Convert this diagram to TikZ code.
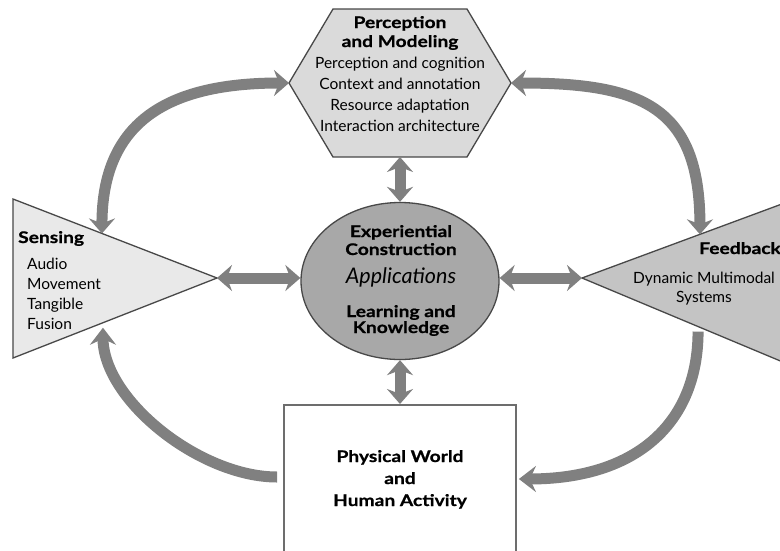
\documentclass[tikz,border=0pt]{standalone}
\usepackage{fontspec}
\setmainfont{Lato}
\newfontfamily\headfont[FakeStretch=1.2,FakeBold=0.8]{Lato}
\usetikzlibrary{arrows.meta,calc,shapes.geometric}

\definecolor{linkgray}{RGB}{128,128,128}
\definecolor{edgegray}{RGB}{72,72,72}
\definecolor{hexfill}{RGB}{218,218,218}
\definecolor{sensefill}{RGB}{233,233,233}
\definecolor{backfill}{RGB}{196,196,196}
\definecolor{corefill}{RGB}{168,168,168}

\tikzset{
  block/.style={draw=edgegray, line width=1.3pt},
  link/.style={draw=linkgray, line width=11pt, -{Stealth[length=17pt,width=26pt,inset=6pt]}},
  duplex/.style={link, {Stealth[length=15pt,width=26pt,inset=5pt]}-{Stealth[length=15pt,width=26pt,inset=5pt]}},
  txt/.style={inner sep=0pt, font=\fontsize{15.5}{18}\selectfont},
  head/.style={txt, font=\headfont\fontsize{16}{18}\selectfont\bfseries},
}

\begin{document}
\begin{tikzpicture}[x=1pt, y=-1pt]
\clip (0,0) rectangle (780,550);
\fill[white] (0,0) rectangle (780,550);

% corners of the outer shapes
\coordinate (hexL) at (289,83);  \coordinate (hexTL) at (333,9);
\coordinate (hexTR) at (467,9);  \coordinate (hexR) at (511,83);
\coordinate (hexBR) at (467,157); \coordinate (hexBL) at (333,157);
\coordinate (hexB) at (400,157);
\coordinate (sensTL) at (13,199); \coordinate (sensApex) at (217,278);
\coordinate (sensBL) at (13,358);
\coordinate (backApex) at (582,278); \coordinate (backTR) at (790,201);
\coordinate (backBR) at (790,365);

\draw[block, fill=hexfill] (hexL) -- (hexTL) -- (hexTR) -- (hexR) -- (hexBR) -- (hexBL) -- cycle;
\draw[block, fill=sensefill] (sensTL) -- (sensApex) -- (sensBL) -- cycle;
\draw[block, fill=backfill] (backApex) -- (backTR) -- (backBR) -- cycle;
\node[ellipse, block, fill=corefill, minimum width=198pt, minimum height=157pt] (core) at (400,281) {};
\node[draw=edgegray!80, line width=1.8pt, fill=white, minimum width=232pt, minimum height=170pt, anchor=north] (world) at (400,404) {};

% where the curved arrows meet the shapes
\coordinate (sensTop) at ($(sensTL)!0.436!(sensApex)$);
\coordinate (sensBot) at ($(sensApex)!0.559!(sensBL)+(0,5)$);
\coordinate (backTop) at ($(backApex)!0.567!(backTR)$);
\coordinate (backBot) at ($(backApex)!0.558!(backBR)+(0,5)$);
\coordinate (worldW) at ($(world.north west)+(-6,73)$);
\coordinate (worldE) at ($(world.north east)+(2,75)$);

% arrows
\draw[duplex] (hexB) -- (core.north);
\draw[duplex] (core.south) -- (world.north);
\draw[duplex] (sensApex) -- (sensApex -| core.west);
\draw[duplex] (backApex -| core.east) -- (backApex);
\draw[duplex] (hexL) .. controls (170,83) and (102,120) .. (sensTop);
\draw[duplex] (hexR) .. controls (640,83) and (700,105) .. (backTop);
\draw[link] (worldW) .. controls (200,477) and (103,400) .. (sensBot);
\draw[link] (backBot) .. controls (698,420) and (640,479) .. (worldE);

% texts
\node[head, anchor=base] (hexhead1) at (400,28) {Perception};
\node[head, anchor=base] (hexhead2) at (400,47) {and Modeling};
\foreach \t [count=\i] in {Perception and cognition, Context and annotation,
  Resource adaptation, Interaction architecture}
  \node[txt, anchor=base] (hexline\i) at (400,47+21*\i) {\t};

\node[head, anchor=base west] (senshead) at (18,243) {Sensing};
\foreach \t [count=\i] in {Audio, Movement, Tangible, Fusion}
  \node[txt, anchor=base west] (sensline\i) at (27,249+20*\i) {\t};

\node[head, anchor=base east] (backhead) at (781,254) {Feedback};
\node[txt, anchor=base] (backline1) at (704,283) {Dynamic Multimodal};
\node[txt, anchor=base] (backline2) at (704,302) {Systems};

\node[head, anchor=base] (corehead1) at (401,237) {Experiential};
\node[head, anchor=base] (corehead2) at (401,255) {Construction};
\node[txt, anchor=base, font=\fontsize{21.5}{24}\selectfont\itshape] (coreapp) at (401,283) {Applications};
\node[head, anchor=base] (corefoot1) at (401,317) {Learning and};
\node[head, anchor=base] (corefoot2) at (401,333) {Knowledge};

\node[head, anchor=base] (worldline1) at (400,462) {Physical World};
\node[head, anchor=base] (worldline2) at (400,484) {and};
\node[head, anchor=base] (worldline3) at (400,506) {Human Activity};
\end{tikzpicture}
\end{document}
